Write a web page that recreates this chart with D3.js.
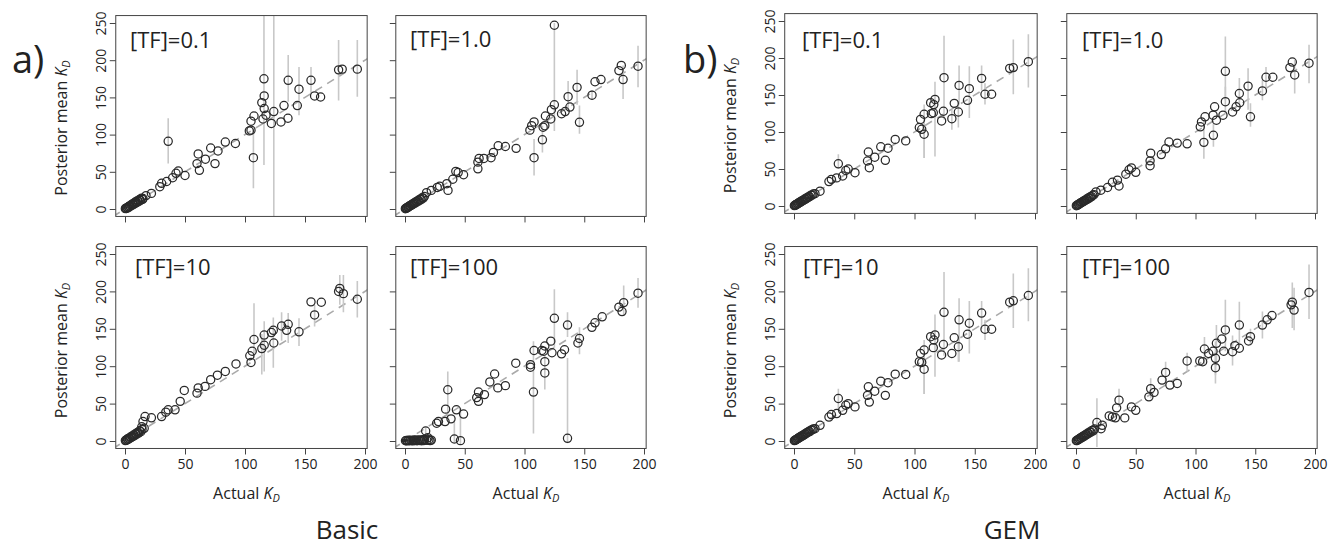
<!DOCTYPE html>
<html><head><meta charset="utf-8">
<script src="https://cdn.jsdelivr.net/npm/d3@7"></script>
<style>body{margin:0;background:#fff} svg text{font-family:'Open Sans',sans-serif;fill:#222}</style>
</head><body><svg id="c" width="1328" height="548"></svg>
<script>
// each point: [actual KD, posterior mean KD, lower, upper] (bounds optional)
const basicTF01 = [[0.3,0.5],[0.8,1.2],[1.2,0.8],[1.8,2.0],[2.3,1.6],[2.8,3.0],[3.3,2.6],[3.8,4.2],[4.4,3.8],[5.0,5.4],[5.6,4.9],[6.2,6.8],[6.8,6.0],[7.5,8.0],[8.2,7.2],[9.0,9.8],[9.6,8.6],[10.4,11.2],[11.2,10.0],[12.0,12.8],[12.8,11.6],[13.8,14.6],[14.6,12.8],[15.0,14.0],
 [17.5,18],[22,21],[29,30],[30.5,34.5],[34.7,37],[36,91,61,122],[39.7,42],[42.5,48],[44.4,51],[50,45],[60,61],[61,74],[62,52],[67,67],[71.4,82],[75,61],[77.5,78],[83.6,90],[92,88],[103.6,105],[105,106],[105,118],[107.5,125],[107,69,28,108],[114,143],[115,121],[115.8,175,59,262],[116,152],[116,135],[117.5,126],[122,115],[124,131,-15,270],[130,117],[132.5,139],[135.8,122],[136,173,144,207],[143.6,139],[145,161,126,191],[155,173,155,191],[158,152],[163,150.5],[178,187,146,227],[181,188],[193.6,188,151,227]];
const basicTF1 = [[0.3,0.4],[0.8,0.9],[1.3,1.5],[1.8,1.6],[2.4,2.6],[2.9,2.8],[3.5,3.7],[4.0,4.3],[4.6,4.4],[5.2,5.5],[5.8,5.6],[6.4,6.9],[7.0,6.8],[7.7,8.2],[8.4,8.0],[9.2,9.8],[10.0,9.6],[10.8,11.4],[11.6,11.0],[12.5,13.2],[13.4,12.6],[14.3,15.0],[15.2,14.5],[16.2,16.8],
 [18,22],[22,25],[27,29],[29,30.5],[35,34],[36,25],[40,40],[42.5,50.6],[44.5,49],[49,46],[61,54],[61,63],[62,68],[66,68],[72,69],[74,76],[78,85],[84,84],[93,81.5],[104.5,106],[106,112],[108,117],[108,69,45,94],[115,93,76,112],[115.6,110],[117,112],[117.5,125],[122,121],[122.5,133.5],[125,140],[125,247,105,250],[131,128],[134,131],[136.5,151,131,172],[138,137],[144,163.5,140,187],[146,116.5,101,139],[156.5,153,147,160],[159,171],[164,174],[179,186],[181,193],[182.5,174,148,193],[195,192,163.5,219.5]];
const basicTF10 = [[0.3,0.6],[0.9,1.3],[1.4,1.0],[2.0,2.6],[2.6,2.2],[3.2,3.8],[3.8,3.4],[4.4,5.0],[5.0,4.6],[5.7,6.4],[6.4,5.9],[7.1,7.9],[7.9,7.2],[8.7,9.6],[9.5,8.9],[10.4,11.5],[11.3,10.6],[12.2,13.6],[13.2,12.4],[14.2,15.5],[14,19],[15,26],[16,17],
 [16.7,32.7],[22,31],[30.5,32.7],[34,38.5],[36,41.7],[41.7,41.7],[46,53],[49.4,67.6],[60,64],[61,71],[66.7,73],[71.4,82],[77,88],[83.6,93],[92.5,103],[104,114],[105,105],[106,120],[107.5,135.7,111,184],[114,123.6,89,143],[116,128],[116,141.6,93,160],[122,145],[123.6,148,98,165],[124,131],[130.5,153.7,134,172],[134.7,148],[136,156,131,171],[145,146,127,164],[155,186],[158,168.5,153,182],[163.6,185.5],[178,200],[179,204,182,222],[182,197,172,222],[193.6,189.5,165,214]];
const basicTF100 = [[0.4,0.3],[1.2,0.6],[2.0,0.2],[2.9,0.9],[3.8,0.4],[4.7,1.1],[5.6,0.5],[6.5,0.2],[7.4,1.3],[8.3,0.6],[9.2,1.0],[10.1,0.3],[11.0,1.5],[11.9,0.7],[12.8,1.2],[13.7,0.4],[14.6,1.8],[15.5,0.6],[16.4,2.2],[17.3,13.4,6,18],[18.2,0.9],[19.1,4.5,0,9],[20.0,1.6],[21.0,0.5],[22.0,1.2],
 [26.5,23.7],[28,26],[33.5,26],[34,42.6],[35.8,68.5,30,93],[38.5,29.6],[41.3,2.7,-2,28],[43,41.7],[46.4,0.5,-5,44],[49,36],[60,58],[61.5,53],[61.5,65.4],[66.5,62],[71,79],[75,89.6],[77.7,71],[84,74],[92.7,104],[105,102],[105,98.6],[107.5,65.4,10,133.5],[108,121],[114.5,121],[116,120],[117,127],[117,106],[117,91,69,115],[122,133.5],[123,118],[125,164,124.5,203],[131,116.5],[133.5,122],[136,155,139,172],[136,3.6,-3,111],[144.7,131],[146,137,116,152],[156.4,152],[159,158],[165,166],[179,179],[181.6,173],[183,185,167,208],[195,197.6,178,218]];
const gemTF01 = [[0.3,0.5],[0.8,0.9],[1.3,1.6],[1.9,1.7],[2.5,2.8],[3.0,2.9],[3.6,4.0],[4.2,4.1],[4.8,5.2],[5.4,5.3],[6.0,6.6],[6.7,6.4],[7.4,7.9],[8.1,7.8],[8.9,9.5],[9.6,9.3],[10.4,11.0],[11.2,10.9],[12.1,12.7],[13.0,12.5],[14.0,14.6],[15.0,14.6],[16.0,16.2],
 [17.4,16.7],[21.6,20],[29,33],[31,36],[35.4,38],[36.8,57,50,70],[40.4,40.5],[43,48],[45,50],[50.6,45],[61,60.8],[61.7,73],[62.5,51.8],[67,66],[72,80],[75.8,61.7],[78,78],[84,90],[92.7,88],[104,106],[105,117],[106,103.6],[108,124,65,137],[108,97,65,119],[113.4,139.6],[114,124.8],[115.6,126],[116,137],[117,144,67,168],[122.5,115],[124,128],[124.5,173.4,117,230],[131,118,103,130],[133,138.7],[136.4,127,106,142],[137,163,137,190],[144,142.8],[145.5,158.6,119,189],[155.7,172.5,156,190],[158.5,151,137,166],[164,151],[179,186],[182,187,151,225],[194.5,195,160,232]];
const gemTF1 = [[0.3,0.4],[0.9,1.0],[1.4,1.3],[2.0,2.2],[2.6,2.5],[3.2,3.5],[3.8,3.7],[4.4,4.8],[5.0,4.9],[5.7,6.1],[6.4,6.2],[7.1,7.6],[7.8,7.5],[8.6,9.1],[9.4,9.0],[10.2,10.8],[11.1,10.7],[12.0,12.5],[13.0,12.6],[14.0,14.5],[15.0,15.3],
 [16.7,19],[20.8,21.4],[26.4,25],[30.5,32],[34.7,35],[36,27],[41.7,43],[44.4,49],[46.4,51.4],[50,45.5],[62,54.5],[62,61],[62.5,71.4],[71.4,69.5],[75,77.3],[77.8,86.4],[84.7,85],[93,84],[104,107],[105,113.6],[107,86,64,115],[108,120.5],[114.7,122.7],[115,95.5,80,111],[116,134],[117.5,116],[123,122.7],[125,141,125,161],[125,182,143,229],[131,127],[134,134],[136.7,152,134,173],[137,139.5],[144,162,130,186],[146,120.5,107,139],[156,155.5,143,170],[159,174,160,188],[164.7,174],[179,187],[181,194.5],[183,177,152,198],[195,193,166,218]];
const gemTF10 = [[0.3,0.5],[0.8,1.0],[1.3,1.5],[1.9,1.8],[2.5,2.7],[3.0,3.0],[3.6,3.9],[4.2,4.2],[4.8,5.1],[5.4,5.4],[6.0,6.5],[6.7,6.5],[7.4,7.8],[8.1,7.9],[8.9,9.4],[9.6,9.4],[10.4,10.9],[11.2,11.0],[12.1,12.6],[13.0,12.6],[14.0,14.5],[15.0,14.8],[16.0,16.1],
 [17.4,16.5],[21.6,21],[29,32],[31,35.3],[35.4,36.7],[36.8,56.8,43,70],[40.4,41],[43,47.8],[45,50],[50.6,45.6],[61,61],[61.7,72.4],[62.5,52],[67,66.6],[72,80],[75.8,61],[78,78],[84,89.4],[92.7,89],[104,106],[105,117],[106,105],[108,121.6,63,135],[108,96,63,117],[113.4,139.5],[115.6,124.8],[116,135],[117,141.8,86,169],[122.5,115],[124,129],[124.5,172,114,226],[131,117],[133,138],[136.4,126,106,141],[137,162,106,191],[144,142.7],[145.5,157.4,117,187],[155.7,171,150,187],[158.5,149.4,135,162],[164,149.4],[179,185.6],[182,187.4,151,224],[194.5,194.5,160,231]];
const gemTF100 = [[0.3,0.5],[0.9,0.8],[1.5,1.7],[2.1,1.9],[2.7,3.0],[3.3,3.1],[3.9,4.3],[4.5,4.2],[5.2,5.6],[5.9,5.5],[6.6,7.1],[7.3,6.9],[8.1,8.7],[8.9,8.4],[9.7,10.4],[10.6,10.0],[11.5,12.2],[12.4,11.8],[13.4,14.2],[14.4,13.6],[15.5,16.0],
 [17.5,24.6,-8,57],[21,16.5],[22,21],[27.8,33.5],[30.5,32.2],[33,31],[34,44.3],[36,54.6,45,70],[40.8,30.9],[46.4,45.6],[50,41],[61,59],[62.5,70,57,84],[65.3,65],[72,81.4],[75,91.7,79,106],[78.6,74.7],[84.7,77],[93,107,93,118],[103.6,107],[106,106],[107.5,123,101,139],[111,117],[114.7,120],[116.7,110.5,88,133],[116.7,98,77,119],[117.5,130.6,101,155],[122,136.4],[123.6,120],[125,148.5,120,189],[131,119.4,101,141],[133,127.5],[136.7,124],[136.7,155,130,186],[144.4,133.7],[146,139.5,128,150],[156,155,137,173],[160,162],[164,167.7],[180,182],[181,185.6,151,212],[182.5,175,148,205],[195,198.6,163,236]];

const xTicks = [0, 50, 100, 150, 200];
const yTicks = [0, 50, 100, 150, 200, 250];
const panelLabels = ["[TF]=0.1", "[TF]=1.0", "[TF]=10", "[TF]=100"];
const groupNames = ["Basic", "GEM"];
const groupTags = ["a)", "b)"];

const svg = d3.select("#c");
const panels = [
 {d: basicTF01, lab: 0, x0:125, x1:365, y0:209, y1:23, left:true, bottom:false, lx:130, ly:48},
 {d: basicTF1, lab: 1, x0:405, x1:644, y0:209, y1:23, left:false, bottom:false, lx:410, ly:47},
 {d: basicTF10, lab: 2, x0:125, x1:365, y0:441, y1:254, left:true, bottom:true, lx:135, ly:275},
 {d: basicTF100, lab: 3, x0:405, x1:644, y0:441, y1:254, left:false, bottom:true, lx:410, ly:275},
 {d: gemTF01, lab: 0, x0:794, x1:1035, y0:206, y1:21, left:true, bottom:false, lx:802, ly:48},
 {d: gemTF1, lab: 1, x0:1076, x1:1315, y0:206, y1:21, left:false, bottom:false, lx:1082, ly:48},
 {d: gemTF10, lab: 2, x0:794, x1:1035, y0:441, y1:254, left:true, bottom:true, lx:803, ly:275},
 {d: gemTF100, lab: 3, x0:1076, x1:1315, y0:441, y1:254, left:false, bottom:true, lx:1082, ly:275}
];

panels.forEach((p, i) => {
  const xs = d3.scaleLinear().domain([0, 200]).range([p.x0, p.x1]);
  const ys = d3.scaleLinear().domain([0, 250]).range([p.y0, p.y1]);
  const L = xs(-7.7), R = xs(201.8), B = ys(-10), T = ys(260);
  const g = svg.append("g");
  g.append("clipPath").attr("id", "clip" + i).append("rect")
    .attr("x", L).attr("y", T).attr("width", R - L).attr("height", B - T);
  const pg = g.append("g").attr("clip-path", `url(#clip${i})`);
  pg.append("line").attr("x1", xs(-10)).attr("y1", ys(-10)).attr("x2", xs(210)).attr("y2", ys(210))
    .attr("stroke", "#aaa").attr("stroke-width", 1.6).attr("stroke-dasharray", "8,6");
  pg.selectAll("line.eb").data(p.d.filter(d => d.length > 2)).join("line").attr("class", "eb")
    .attr("x1", d => xs(d[0])).attr("x2", d => xs(d[0]))
    .attr("y1", d => ys(d[2])).attr("y2", d => ys(d[3]))
    .attr("stroke", "#c8c8c8").attr("stroke-width", 1.6);
  pg.selectAll("circle").data(p.d).join("circle")
    .attr("cx", d => xs(d[0])).attr("cy", d => ys(d[1])).attr("r", 4.1)
    .attr("fill", "none").attr("stroke", "#2a2a2a").attr("stroke-width", 1.25);
  g.append("rect").attr("x", L).attr("y", T).attr("width", R - L).attr("height", B - T)
    .attr("fill", "none").attr("stroke", "#444").attr("stroke-width", 1);

  const ya = g.append("g").attr("transform", `translate(${L},0)`)
    .call(d3.axisLeft(ys).tickValues(yTicks).tickSize(6).tickFormat(p.left ? d3.format("d") : ""));
  ya.select(".domain").remove();
  ya.selectAll("line").attr("stroke", "#444");
  ya.selectAll("text").attr("x", 0).attr("dy", 0).attr("transform", "translate(-10,0) rotate(-90)")
    .attr("text-anchor", "middle").style("font-size", "14px").style("fill", "#222");

  const xa = g.append("g").attr("transform", `translate(0,${B})`)
    .call(d3.axisBottom(xs).tickValues(xTicks).tickSize(6).tickFormat(p.bottom ? d3.format("d") : ""));
  xa.select(".domain").remove();
  xa.selectAll("line").attr("stroke", "#444");
  xa.selectAll("text").attr("y", 11).style("font-size", "14px").style("fill", "#222");

  g.append("text").attr("x", p.lx).attr("y", p.ly).style("font-size", "22px").text(panelLabels[p.lab]);

  if (p.left) {
    const cy = (T + B) / 2 + (p.bottom ? 3 : 12);
    const t = g.append("text").attr("transform", `translate(${L - 49},${cy}) rotate(-90)`)
      .attr("text-anchor", "middle").style("font-size", "16px");
    t.append("tspan").text("Posterior mean ");
    t.append("tspan").style("font-style", "italic").text("K");
    t.append("tspan").style("font-style", "italic").style("font-size", "11px").attr("dy", 3).text("D");
  }
  if (p.bottom) {
    const t = g.append("text").attr("x", (L + R) / 2 + 5).attr("y", B + 51)
      .attr("text-anchor", "middle").style("font-size", "16px");
    t.append("tspan").text("Actual ");
    t.append("tspan").style("font-style", "italic").text("K");
    t.append("tspan").style("font-style", "italic").style("font-size", "11px").attr("dy", 3).text("D");
  }
});

svg.append("text").attr("x", 12).attr("y", 73).style("font-size", "38px").text(groupTags[0]);
svg.append("text").attr("x", 683).attr("y", 73).style("font-size", "38px").text(groupTags[1]);
svg.append("text").attr("x", 347).attr("y", 539).attr("text-anchor", "middle").style("font-size", "26px").text(groupNames[0]);
svg.append("text").attr("x", 1012).attr("y", 539).attr("text-anchor", "middle").style("font-size", "26px").text(groupNames[1]);
</script></body></html>
